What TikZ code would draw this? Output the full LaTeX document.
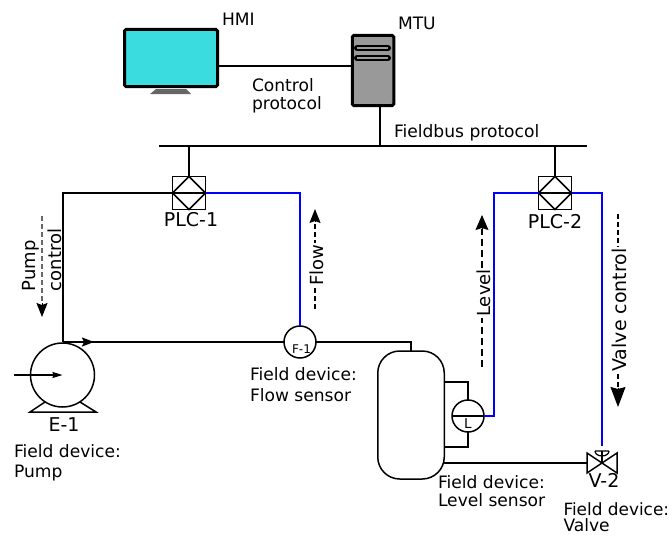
\documentclass[tikz,border=0pt]{standalone}
\usepackage{fontspec}
\setmainfont{DejaVu Sans}
\usetikzlibrary{arrows.meta}
\definecolor{scr}{HTML}{3BDCE0}
\definecolor{srv}{HTML}{999999}
\definecolor{stand}{HTML}{666666}
\definecolor{sig}{HTML}{0000FF}
\tikzset{
  x=1pt,y=-1pt,
  every node/.style={inner sep=0pt,outer sep=0pt},
  lbl/.style={font=\fontsize{17.1}{20}\selectfont,anchor=base west,text=black},
  tag/.style={font=\fontsize{19}{22}\selectfont,anchor=base,text=black},
  wire/.style={line width=1.8pt,black},
  thin wire/.style={line width=1.5pt,black},
  sigline/.style={line width=2pt,draw=sig},
  plcbox/.style={draw=black,line width=1.5pt,minimum width=33pt,minimum height=33pt,shape=rectangle},
  instr/.style={circle,draw=black,line width=1.5pt,minimum size=32pt,fill=white},
  flowarr/.style={line width=1.4pt,dashed,dash pattern=on 5pt off 3pt,black},
  rottext/.style={font=\fontsize{18}{20}\selectfont,rotate=90,fill=white,inner sep=1pt,text=black,anchor=base},
}
\begin{document}
\begin{tikzpicture}
\useasboundingbox (0,0) rectangle (672,535);
% HMI
\fill[stand] (156,89) -- (186,89) -- (191,94) -- (150,94) -- cycle;
\node[draw=black,fill=scr,line width=3pt,rounded corners=1.5pt,minimum width=93pt,minimum height=57pt] (hmi) at (171,58) {};
% MTU
\node[draw=black,fill=srv,line width=3pt,rounded corners=1.5pt,minimum width=41.5pt,minimum height=70pt] (mtu) at (373,70.5) {};
\draw[black,line width=6pt,line cap=round] (357,48) -- (388,48);
\draw[srv,line width=1.2pt] (357,48) -- (388,48);
\draw[black,line width=6pt,line cap=round] (357,58) -- (388,58);
\draw[srv,line width=1.2pt] (357,58) -- (388,58);
% HMI-MTU
\draw[line width=2pt,black] (hmi.east |- 0,66) -- (mtu.west |- 0,66);
% bus
\coordinate (busL) at (159,146);
\coordinate (busR) at (587,146);
\coordinate (busM) at (380,146);
\draw[wire] (busL) -- (busR);
\draw[wire] (mtu.south -| busM) -- (busM);
% PLCs
\node[plcbox] (plc1) at (189,193) {};
\node[plcbox] (plc2) at (555,193) {};
\foreach \p in {plc1,plc2}{
  \draw[thin wire] (\p.north) -- (\p.east) -- (\p.south) -- (\p.west) -- cycle;
  \draw[thin wire] (\p.west) -- (\p.east);
}
\draw[wire] (plc1.north) -- (plc1.north |- busL);
\draw[wire] (plc2.north) -- (plc2.north |- busL);
% Pump
\node[circle,draw=black,line width=1.5pt,minimum size=64pt] (pump) at (62.5,375) {};
\coordinate (pumpTop) at (63,342);
\draw[thin wire] (45,402) -- (30,412) -- (96,412) -- (80,402);
\draw[thin wire,-{Stealth[inset=1pt,length=10pt,width=6pt]}] (14,375) -- (pump.center);
% instruments
\node[instr] (fs) at (300,342) {};
\node[instr] (ls) at (468,416) {};
\draw[thin wire] (ls.west) -- (ls.east);
\node[font=\fontsize{12}{12}\selectfont,text=black] (f1) at (301.5,349) {F-1};
\node[font=\fontsize{13.5}{14}\selectfont,text=black] (ll) at (468,424) {L};
% tank
\node[draw=black,line width=1.5pt,rounded corners=22pt,minimum width=66.5pt,minimum height=128pt] (tank) at (411,415) {};
% process
\draw[wire] (plc1.west) -- (63,193) -- (pumpTop);
\draw[wire] (pumpTop) -- (fs.west);
\draw[wire,-{Stealth[inset=2pt,length=12pt,width=9pt]}] (pumpTop) -- (94,342);
\draw[wire] (fs.east) -- (411,342) -- (tank.north -| 411,0);
\draw[wire] (tank.east |- 0,382) -| (ls.north);
\draw[wire] (tank.east |- 0,447) -| (ls.south);
% valve
\coordinate (vc) at (602,463);
\draw[thin wire] (vc) -- (587,453) -- (587,473) -- cycle;
\draw[thin wire] (vc) -- (617,453) -- (617,473) -- cycle;
\draw[thin wire] (vc) -- (602,451);
\draw[line width=1.2pt,black] (595,451) -- (609,451) (595,451) arc[start angle=180,end angle=0,x radius=7,y radius=5];
\draw[wire] (tank.east |- vc) -- (587,463);
% signals
\draw[sigline] (plc1.east) -- (300,193) -- (300,326);
\draw[sigline] (ls.east) -- (494,416) -- (494,193) -- (plc2.west);
\draw[sigline] (plc2.east) -- (602,193) -- (602,446);
% flow arrows
\coordinate (pa) at (42,216); \coordinate (pb) at (42,317);
\draw[flowarr,black!60] (pa) -- (42,304);
\draw[-{Stealth[inset=2pt,length=14pt,width=11pt]},line width=1pt] (42,303) -- (pb);
\coordinate (fa) at (315,309); \coordinate (fb) at (315,209);
\draw[flowarr] (fa) -- (315,222);
\draw[-{Stealth[inset=2pt,length=14pt,width=11pt]},line width=1pt] (315,222) -- (fb);
\coordinate (la) at (482,367); \coordinate (lb) at (482,215);
\draw[flowarr,dash pattern=on 7pt off 4pt] (la) -- (482,229);
\draw[-{Stealth[inset=2pt,length=15pt,width=13pt]},line width=1pt] (482,229) -- (lb);
\coordinate (va) at (618,214); \coordinate (vb) at (618,407);
\draw[flowarr] (va) -- (618,388);
\draw[-{Stealth[inset=2pt,length=20pt,width=15pt]},line width=1pt] (618,388) -- (vb);
% rotated labels
\node[rottext,fill=none,anchor=base west] (t1) at (35,292) {Pump};
\node[rottext,fill=none,anchor=base west] (t2) at (61,292) {control};
\node[rottext] (t3) at (323,265) {Flow};
\node[rottext] (t4) at (490,293) {Level};
\node[rottext,font=\fontsize{19}{20}\selectfont] (t5) at (626.5,310) {Valve control};
% labels
\node[lbl] (n1) at (222,26) {HMI};
\node[lbl] (n2) at (398,30) {MTU};
\node[lbl] (n3) at (252,92) {Control};
\node[lbl] (n4) at (252,109) {protocol};
\node[lbl] (n5) at (394,137) {Fieldbus protocol};
\node[tag] (n6) at (191,226) {PLC-1};
\node[tag] (n7) at (555,228) {PLC-2};
\node[tag] (n8) at (64,431) {E-1};
\node[tag] (n9) at (604,487) {V-2};
\node[lbl] (a1) at (14,457) {Field device:};
\node[lbl] (a2) at (14,477) {Pump};
\node[lbl] (b1) at (250,380) {Field device:};
\node[lbl] (b2) at (250,401) {Flow sensor};
\node[lbl] (c1) at (438,488) {Field device:};
\node[lbl] (c2) at (438,506) {Level sensor};
\node[lbl,font=\fontsize{16.9}{20}\selectfont] (d1) at (563.5,515) {Field device:};
\node[lbl] (d2) at (563.5,531.5) {Valve};
\end{tikzpicture}
\end{document}
